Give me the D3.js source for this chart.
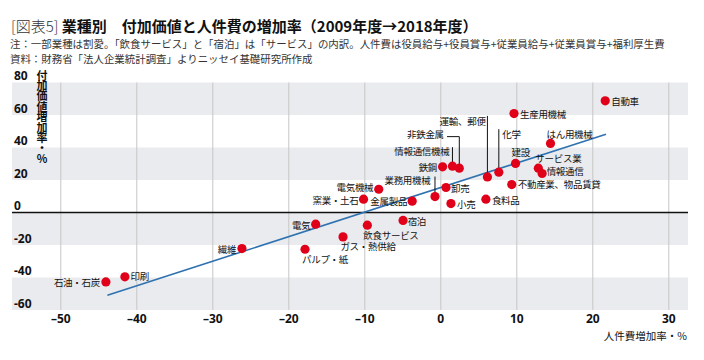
<!DOCTYPE html>
<html><head><meta charset="utf-8">
<script src="https://cdn.jsdelivr.net/npm/d3@7"></script>
<style>
html,body{margin:0;padding:0;background:#fff;}
svg{display:block;font-family:"Noto Sans CJK JP","Noto Sans",sans-serif;}
</style></head>
<body><svg id="chart" width="704" height="360"></svg>
<script>
// ---- data ----
const categories = ["自動車","生産用機械","はん用機械","建設","サービス業","情報通信","化学","運輸、郵便","不動産業、物品賃貸","食料品","小売","卸売","鉄鋼","情報通信機械","非鉄金属","業務用機械","金属製品","電気機械","窯業・土石","宿泊","飲食サービス","電気","ガス・熱供給","パルプ・紙","繊維","印刷","石油・石炭"];
const laborCostGrowth = [21.7,9.7,14.5,9.9,12.9,13.4,7.7,6.2,9.4,6.0,1.4,0.75,0.3,1.6,2.5,-0.7,-3.7,-8.1,-10.1,-4.9,-9.6,-16.4,-12.8,-17.8,-26.1,-41.5,-44.0];
const valueAddedGrowth = [68.7,60.9,42.5,30.2,27.3,24.0,24.8,21.9,17.2,8.2,5.5,15.4,28.1,28.5,27.3,9.8,7.0,14.3,8.2,-4.9,-7.8,-7.2,-15.0,-22.6,-22.2,-39.6,-42.7];
const trendX = [-43.8, 21.8];
const trendY = [-50.9, 48.2];
const xTicks = [-50,-40,-30,-20,-10,0,10,20,30];
const xTickLabels = ["–50","–40","–30","–20","–10","0","10","20","30"];
const yTicks = [80,60,40,20,0,-20,-40,-60];
const yTickLabels = ["80","60","40","20","0","-20","-40","-60"];
const titlePrefix = "[図表5] ";
const title = "業種別　付加価値と人件費の増加率（2009年度→2018年度）";
const note1 = "注：一部業種は割愛。「飲食サービス」と「宿泊」は「サービス」の内訳。人件費は役員給与+役員賞与+従業員給与+従業員賞与+福利厚生費";
const note2 = "資料：財務省「法人企業統計調査」よりニッセイ基礎研究所作成";
const xTitle = "人件費増加率・%";
const yTitle = "付加価値増加率・%";

// ---- layout (label placement relative to dot) ----
// [dx, dy, anchor, leader]  leader: array of [dx,dy] points from the dot
const labelLayout = {
 "自動車":[6,1,"start"],
 "生産用機械":[6,1,"start"],
 "はん用機械":[-4,-9,"start"],
 "建設":[-4,-11,"start"],
 "サービス業":[-3,-9,"start"],
 "情報通信":[4.5,-1.5,"start"],
 "化学":[3.5,-37.5,"start",[[0,0],[0,-43]]],
 "運輸、郵便":[-1.8,-55.5,"end",[[0,0],[0,-61]]],
 "不動産業、物品賃貸":[6,0,"start"],
 "食料品":[6,1,"start"],
 "小売":[6,1,"start"],
 "卸売":[5,1,"start"],
 "鉄鋼":[-5.5,0.6,"end"],
 "情報通信機械":[-3,-15,"end",[[0,0],[0,-19]]],
 "非鉄金属":[-15.5,-33.5,"end",[[0,0],[0,-31.5],[-12.3,-31.5]]],
 "業務用機械":[-4.5,-16,"end",[[0,0],[0,-20]]],
 "金属製品":[-5,0.7,"end"],
 "電気機械":[-5.4,-1.6,"end"],
 "窯業・土石":[-5,1.3,"end"],
 "宿泊":[4.6,1.4,"start"],
 "飲食サービス":[-4,10,"start"],
 "電気":[-5.3,1,"end"],
 "ガス・熱供給":[-2.6,10,"start"],
 "パルプ・紙":[-3,10,"start"],
 "繊維":[-5.7,1,"end"],
 "印刷":[5.7,0,"start"],
 "石油・石炭":[-6,0.6,"end"]
};

const svg = d3.select("#chart");
const L = 12, R = 688, T = 82.5, B = 310;
const x = d3.scaleLinear().domain([-50,30]).range([60.3,668.3]);
const y = d3.scaleLinear().domain([80,-60]).range([T,B]);

// title
const tt = svg.append("text").attr("x",11).attr("y",31.5).attr("font-size",15).attr("fill","#111");
tt.append("tspan").attr("font-weight",300).attr("fill","#333").text(titlePrefix);
tt.append("tspan").attr("font-weight",700).text(title);
svg.append("text").attr("x",10).attr("y",48).attr("font-size",10.45).attr("fill","#333").text(note1);
svg.append("text").attr("x",10).attr("y",63).attr("font-size",10.45).attr("fill","#333").text(note2);

// bands
const bands = [[60,80],[20,40],[-20,0],[-60,-40]];
svg.append("g").selectAll("rect").data(bands).join("rect")
 .attr("x",L).attr("width",R-L)
 .attr("y",d=>y(d[1])).attr("height",d=>y(d[0])-y(d[1]))
 .attr("fill","#e9ebee");

// vertical gridlines via axis
const xAxis = d3.axisBottom(x).tickValues(xTicks).tickSize(-(B-T)).tickFormat((d,i)=>xTickLabels[i]);
const gx = svg.append("g").attr("transform",`translate(0,${B})`).call(xAxis);
gx.select(".domain").remove();
gx.selectAll(".tick line").attr("stroke","#c6c6c6").attr("stroke-width",1);
gx.selectAll(".tick text").attr("font-family","'Noto Sans',sans-serif").attr("font-weight",700)
 .attr("font-size",12).attr("fill","#111").attr("dy","0.35em").attr("y",9);

// zero line
svg.append("line").attr("x1",L).attr("x2",R).attr("y1",y(0)).attr("y2",y(0))
 .attr("stroke","#111").attr("stroke-width",1.3);

// y tick labels via axis
const yAxis = d3.axisLeft(y).tickValues(yTicks).tickSize(0).tickFormat((d,i)=>yTickLabels[i]);
const gy = svg.append("g").attr("transform",`translate(${L},0)`).call(yAxis);
gy.select(".domain").remove();
gy.selectAll(".tick text").attr("font-family","'Noto Sans',sans-serif").attr("font-weight",700)
 .attr("font-size",12).attr("fill","#111").attr("text-anchor","start").attr("x",2).attr("dy","-0.25em");

// y title (vertical)
svg.append("text").attr("x",42).attr("y",70)
 .attr("font-size",11).attr("font-weight",700).attr("fill","#111")
 .style("writing-mode","vertical-rl").style("text-orientation","upright")
 .attr("letter-spacing","-0.6")
 .text(yTitle);

// x title
svg.append("text").attr("x",R-1).attr("y",340).attr("text-anchor","end")
 .attr("font-size",10.5).attr("fill","#111").text(xTitle);

// trend line
svg.append("line").attr("x1",x(trendX[0])).attr("y1",y(trendY[0]))
 .attr("x2",x(trendX[1])).attr("y2",y(trendY[1]))
 .attr("stroke","#2f72b0").attr("stroke-width",1.6);

const pts = categories.map((c,i)=>({c, px:x(laborCostGrowth[i]), py:y(valueAddedGrowth[i])}));

// leaders
const lineGen = d3.line();
svg.append("g").selectAll("path").data(pts.filter(p=>labelLayout[p.c][3])).join("path")
 .attr("d",p=>lineGen(labelLayout[p.c][3].map(q=>[p.px+q[0],p.py+q[1]])))
 .attr("fill","none").attr("stroke","#111").attr("stroke-width",1);

// dots
svg.append("g").selectAll("circle").data(pts).join("circle")
 .attr("cx",p=>p.px).attr("cy",p=>p.py).attr("r",4.6).attr("fill","#e1001a");

// labels
svg.append("g").selectAll("text").data(pts).join("text")
 .attr("x",p=>p.px+labelLayout[p.c][0]).attr("y",p=>p.py+labelLayout[p.c][1])
 .attr("dy","0.35em").attr("text-anchor",p=>labelLayout[p.c][2])
 .attr("font-size",9.5).attr("letter-spacing","-0.3").attr("fill","#111").text(p=>p.c);
</script></body></html>
